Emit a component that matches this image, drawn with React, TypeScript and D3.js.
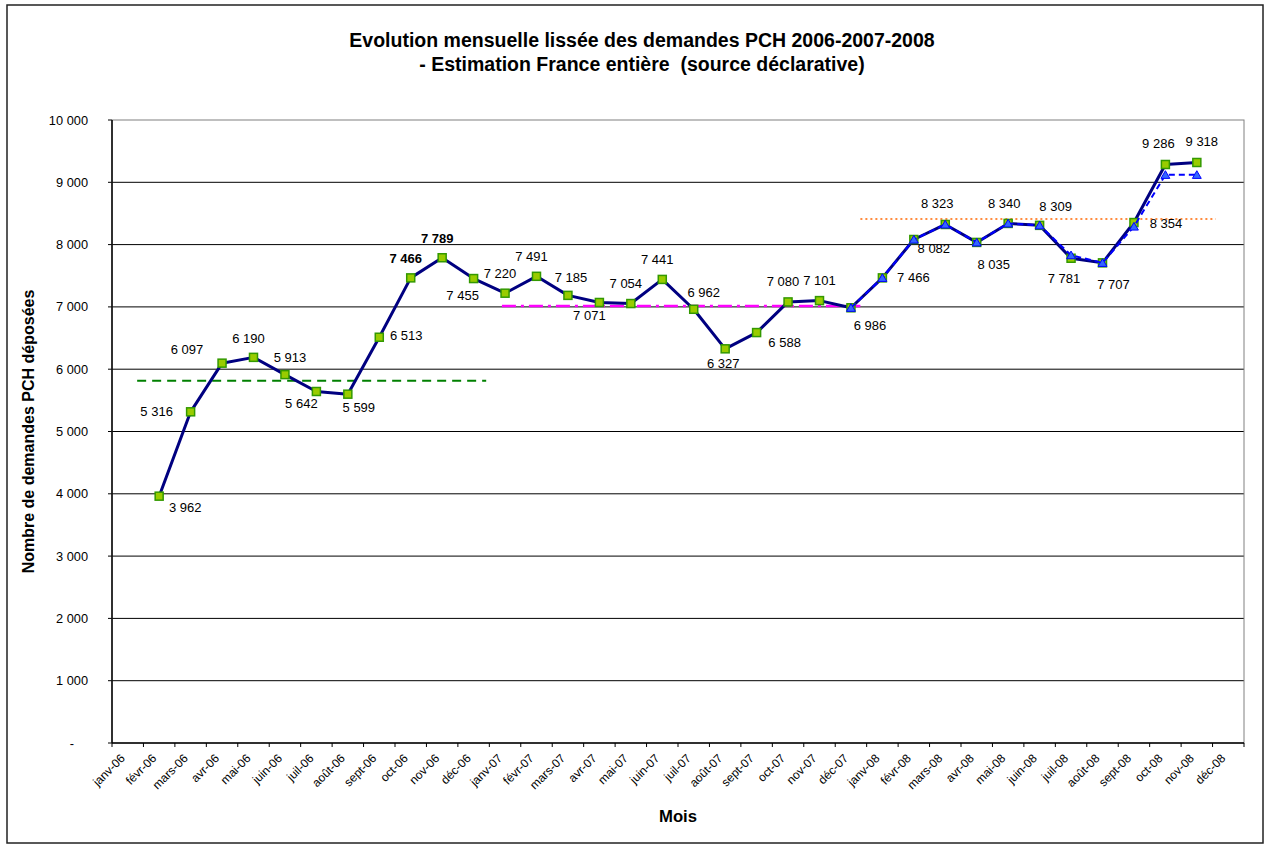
import * as d3 from 'd3';
import React from 'react';

// months on the category axis
const months = [
  'janv-06', 'févr-06', 'mars-06', 'avr-06', 'mai-06', 'juin-06', 'juil-06', 'août-06', 'sept-06', 'oct-06', 'nov-06', 'déc-06',
  'janv-07', 'févr-07', 'mars-07', 'avr-07', 'mai-07', 'juin-07', 'juil-07', 'août-07', 'sept-07', 'oct-07', 'nov-07', 'déc-07',
  'janv-08', 'févr-08', 'mars-08', 'avr-08', 'mai-08', 'juin-08', 'juil-08', 'août-08', 'sept-08', 'oct-08', 'nov-08', 'déc-08',
];

// main series: févr-06 .. nov-08
const demandes = [
  3962, 5316, 6097, 6190, 5913, 5642, 5599, 6513, 7466, 7789, 7455,
  7220, 7491, 7185, 7071, 7054, 7441, 6962, 6327, 6588, 7080, 7101, 6986,
  7466, 8082, 8323, 8035, 8340, 8309, 7781, 7707, 8354, 9286, 9318,
];
const demandesStart = 1;

// second series (blue dashed, triangles): déc-07 .. nov-08
const estimation = [6986, 7466, 8082, 8323, 8035, 8340, 8309, 7830, 7707, 8290, 9120, 9120];
const estimationStart = 23;

// yearly reference levels: value, from / to (in category units)
const niveaux = [
  { value: 5815, from: 0.8, to: 11.9, color: '#008000', dash: '9,6', width: 2 },
  { value: 7015, from: 12.4, to: 23.8, color: '#FF00FF', dash: '14,5,3,5', width: 2.5 },
  { value: 8411, from: 23.8, to: 35.1, color: '#FF6600', dash: '2,3', width: 1.5 },
];

// label placement relative to each point of the main series
const labelOffsets = [
  [26, 11], [-34, 0], [-35, -14], [-5, -19], [5, -17], [-15, 12], [11, 13], [27, -2], [-5, -19], [-5, -19], [-11, 17],
  [-5, -20], [-5, -20], [3, -18], [-10, 13], [-5, -20], [-5, -20], [10, -17], [-2, 15], [28, 10], [-5, -20], [0, -20], [19, 18],
  [31, 0], [20, 9], [-8, -21], [17, 22], [-4, -20], [16, -19], [-7, 20], [11, 22], [32, 1], [-7, -21], [5, -21],
];
const boldLabels = [8, 9];

const yTicks = [0, 1000, 2000, 3000, 4000, 5000, 6000, 7000, 8000, 9000, 10000];

const fr = d3.formatLocale({ decimal: ',', thousands: '\u00a0', grouping: [3], currency: ['', ' €'] });
const fmt = fr.format(',d');

const FONT = 'Liberation Sans, Arial, Helvetica, sans-serif';

const W = 1268;
const H = 847;
const plot = { left: 112, right: 1244, top: 120, bottom: 743 };

const App: React.FC = () => {
  const x = d3.scaleLinear().domain([0, months.length]).range([plot.left, plot.right]);
  const cx = (i: number) => x(i + 0.5);
  const y = d3.scaleLinear().domain([0, 10000]).range([plot.bottom, plot.top]);

  const mainPts = demandes.map((v, i) => [cx(i + demandesStart), y(v)] as [number, number]);
  const estPts = estimation.map((v, i) => [cx(i + estimationStart), y(v)] as [number, number]);
  const path = d3.line();

  const tri = d3.symbol().type(d3.symbolTriangle).size(34)();

  return (
    <svg
      width={W}
      height={H}
      style={{ position: 'absolute', left: 0, top: 0, background: 'white' }}
      fontFamily={FONT}
    >
      <rect x={7} y={5} width={1256} height={838} fill='white' stroke='#222' strokeWidth={1.5} />

      <text x={642} y={47} textAnchor='middle' fontWeight='bold' fontSize={19.5}>
        Evolution mensuelle lissée des demandes PCH 2006-2007-2008
      </text>
      <text x={642} y={71} textAnchor='middle' fontWeight='bold' fontSize={19.5} style={{ whiteSpace: 'pre' }}>
        - Estimation France entière  (source déclarative)
      </text>

      {/* grid */}
      <g>
        {yTicks.map((t) => (
          <g key={t}>
            {t > 0 && t < 10000 && (
              <line x1={plot.left} x2={plot.right} y1={y(t)} y2={y(t)} stroke='#000' strokeWidth={1} />
            )}
            <line x1={plot.left - 4} x2={plot.left} y1={y(t)} y2={y(t)} stroke='#000' />
            <text
              x={t === 0 ? 74 : 88}
              y={y(t)}
              textAnchor='end'
              dominantBaseline='central'
              fontSize={12.8}
            >
              {t === 0 ? '-' : fmt(t)}
            </text>
          </g>
        ))}
      </g>
      <rect
        x={plot.left}
        y={plot.top}
        width={plot.right - plot.left}
        height={plot.bottom - plot.top}
        fill='none'
        stroke='#808080'
      />
      <line x1={plot.left} x2={plot.left} y1={plot.top} y2={plot.bottom} stroke='#000' strokeWidth={1.5} />
      <line x1={plot.left} x2={plot.right} y1={plot.bottom} y2={plot.bottom} stroke='#000' strokeWidth={1.5} />

      {/* x axis */}
      {d3.range(months.length + 1).map((i) => (
        <line key={i} x1={x(i)} x2={x(i)} y1={plot.bottom} y2={plot.bottom + 4} stroke='#000' />
      ))}
      {months.map((m, i) => (
        <text
          key={m}
          transform={`translate(${cx(i) - 2},${plot.bottom + 16}) rotate(-45)`}
          textAnchor='end'
          fontSize={12}
        >
          {m}
        </text>
      ))}

      <text x={(plot.left + plot.right) / 2} y={822} textAnchor='middle' fontWeight='bold' fontSize={16.7}>
        Mois
      </text>
      <text
        transform={`translate(28,${(plot.top + plot.bottom) / 2}) rotate(-90)`}
        textAnchor='middle'
        dominantBaseline='central'
        fontWeight='bold'
        fontSize={16}
      >
        Nombre de demandes PCH déposées
      </text>

      {/* reference levels */}
      {niveaux.map((n, i) => (
        <line
          key={i}
          x1={x(n.from)}
          x2={x(n.to)}
          y1={y(n.value)}
          y2={y(n.value)}
          stroke={n.color}
          strokeWidth={n.width}
          strokeDasharray={n.dash}
        />
      ))}

      {/* main series */}
      <path d={path(mainPts) || ''} fill='none' stroke='#000080' strokeWidth={3} strokeLinejoin='round' />
      {mainPts.map(([px, py], i) => (
        <rect key={i} x={px - 4} y={py - 4} width={8} height={8} fill='#99CC00' stroke='#339900' strokeWidth={1.5} />
      ))}

      {/* estimation series */}
      <path d={path(estPts) || ''} fill='none' stroke='#0000FF' strokeWidth={2} strokeDasharray='6,4' />
      {estPts.map(([px, py], i) => (
        <path key={i} d={tri || ''} transform={`translate(${px},${py + 1})`} fill='#3366FF' stroke='#0000FF' strokeWidth={1} />
      ))}

      {/* data labels */}
      {mainPts.map(([px, py], i) => (
        <text
          key={i}
          x={px + labelOffsets[i][0]}
          y={py + labelOffsets[i][1]}
          textAnchor='middle'
          dominantBaseline='central'
          fontSize={13}
          fontWeight={boldLabels.includes(i) ? 'bold' : 'normal'}
        >
          {fmt(demandes[i])}
        </text>
      ))}
    </svg>
  );
};

export default App;
